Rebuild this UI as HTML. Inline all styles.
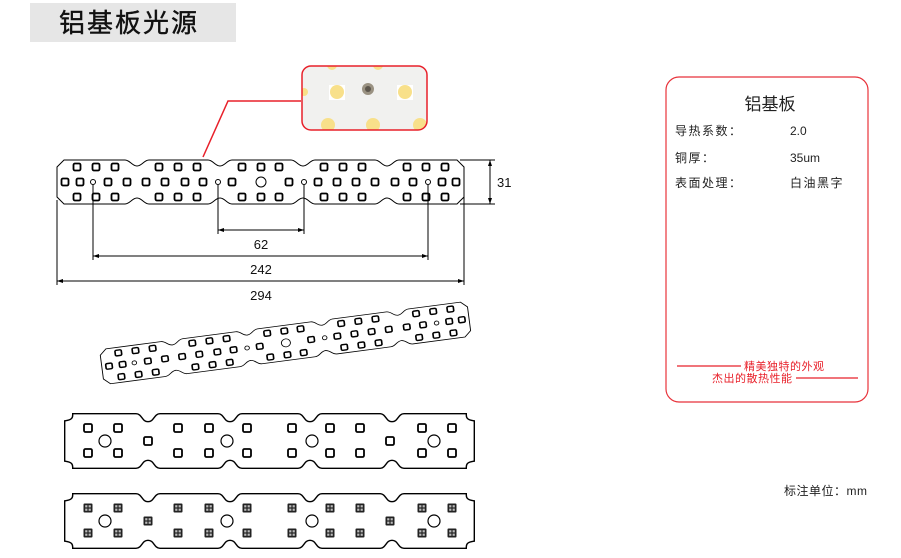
<!DOCTYPE html>
<html><head><meta charset="utf-8"><style>
html,body{margin:0;padding:0;background:#fff;}
body{width:901px;height:553px;overflow:hidden;position:relative;font-family:"Liberation Sans","Noto Sans CJK SC",sans-serif;}
svg text{font-family:"Liberation Sans","Noto Sans CJK SC",sans-serif;}
</style></head><body>
<svg width="901" height="553" viewBox="0 0 901 553" xmlns="http://www.w3.org/2000/svg">
<defs>
<rect id="p" x="-3.5" y="-3.5" width="7" height="7" rx="1.5" fill="none" stroke="#000" stroke-width="1.8"/>
<rect id="q" x="-4" y="-4" width="8" height="8" rx="1.5" fill="#fff" stroke="#000" stroke-width="1.8"/>
<g id="f"><rect x="-4.5" y="-4.5" width="9" height="9" rx="1" fill="#222"/><rect x="-2.8" y="-2.8" width="2.2" height="2.2" fill="#bbb"/><rect x="0.6" y="-2.8" width="2.2" height="2.2" fill="#bbb"/><rect x="-2.8" y="0.6" width="2.2" height="2.2" fill="#bbb"/><rect x="0.6" y="0.6" width="2.2" height="2.2" fill="#bbb"/></g>
<g id="b1">
<path d="M57,167 L64,160 L125,160 C130,160 132,166 137,166 C142,166 144,160 149,160 L208,160 C213,160 215,166 220,166 C225,166 227,160 232,160 L291,160 C296,160 298,166 303,166 C308,166 310,160 315,160 L375,160 C380,160 382,166 387,166 C392,166 394,160 399,160 L457,160 L464,167 L464,197 L457,204 L399,204 C394,204 392,198 387,198 C382,198 380,204 375,204 L315,204 C310,204 308,198 303,198 C298,198 296,204 291,204 L232,204 C227,204 225,198 220,198 C215,198 213,204 208,204 L149,204 C144,204 142,198 137,198 C132,198 130,204 125,204 L64,204 L57,197 Z" fill="#fff" stroke="#000" stroke-width="1"/>
<g>
<use href="#p" x="77" y="167"/><use href="#p" x="96" y="167"/><use href="#p" x="115" y="167"/><use href="#p" x="159" y="167"/><use href="#p" x="178" y="167"/><use href="#p" x="197" y="167"/><use href="#p" x="242" y="167"/><use href="#p" x="261" y="167"/><use href="#p" x="279" y="167"/><use href="#p" x="324" y="167"/><use href="#p" x="343" y="167"/><use href="#p" x="362" y="167"/><use href="#p" x="407" y="167"/><use href="#p" x="426" y="167"/><use href="#p" x="445" y="167"/>
<use href="#p" x="77" y="197"/><use href="#p" x="96" y="197"/><use href="#p" x="115" y="197"/><use href="#p" x="159" y="197"/><use href="#p" x="178" y="197"/><use href="#p" x="197" y="197"/><use href="#p" x="242" y="197"/><use href="#p" x="261" y="197"/><use href="#p" x="279" y="197"/><use href="#p" x="324" y="197"/><use href="#p" x="343" y="197"/><use href="#p" x="362" y="197"/><use href="#p" x="407" y="197"/><use href="#p" x="426" y="197"/><use href="#p" x="445" y="197"/>
<use href="#p" x="65" y="182"/><use href="#p" x="80" y="182"/><use href="#p" x="108" y="182"/><use href="#p" x="127" y="182"/><use href="#p" x="146" y="182"/><use href="#p" x="165" y="182"/><use href="#p" x="185" y="182"/><use href="#p" x="203" y="182"/><use href="#p" x="232" y="182"/><use href="#p" x="289" y="182"/><use href="#p" x="318" y="182"/><use href="#p" x="337" y="182"/><use href="#p" x="356" y="182"/><use href="#p" x="375" y="182"/><use href="#p" x="395" y="182"/><use href="#p" x="413" y="182"/><use href="#p" x="442" y="182"/><use href="#p" x="456" y="182"/>
</g>
<g fill="none" stroke="#000" stroke-width="1">
<circle cx="93" cy="182" r="2.5"/><circle cx="218" cy="182" r="2.5"/><circle cx="304" cy="182" r="2.5"/><circle cx="428" cy="182" r="2.5"/><circle cx="261" cy="182" r="5"/>
</g>
</g>
<path id="o3" d="M74,415 L136,415 C141,415 141,423 148,423 C155,423 155,415 160,415 L218,415 C223,415 223,423 230,423 C237,423 237,415 242,415 L298,415 C303,415 303,423 310,423 C317,423 317,415 322,415 L380,415 C385,415 385,423 392,423 C399,423 399,415 404,415 L465,415 C465,419 467,421 473,422 L473,460 C467,461 465,463 465,467 L404,467 C399,467 399,459 392,459 C385,459 385,467 380,467 L322,467 C317,467 317,459 310,459 C303,459 303,467 298,467 L242,467 C237,467 237,459 230,459 C223,459 223,467 218,467 L160,467 C155,467 155,459 148,459 C141,459 141,467 136,467 L74,467 C74,463 72,461 66,460 L66,422 C72,421 74,419 74,415 Z"/>
<clipPath id="cp"><rect x="302" y="66" width="125" height="64" rx="9"/></clipPath>
</defs>

<rect x="30" y="3" width="206" height="39" fill="#e6e6e6"/>
<text x="59" y="32" font-size="26" letter-spacing="2" fill="#111" stroke="#111" stroke-width="0.4">铝基板光源</text>

<use href="#b1"/>
<g stroke="#000" stroke-width="1" fill="none">
<line x1="93" y1="185" x2="93" y2="260"/><line x1="428" y1="185" x2="428" y2="260"/>
<line x1="218" y1="185" x2="218" y2="234"/><line x1="304" y1="185" x2="304" y2="234"/>
<line x1="57" y1="200" x2="57" y2="285"/><line x1="464" y1="192" x2="464" y2="285"/>
<line x1="218" y1="230" x2="304" y2="230"/>
<line x1="93" y1="256" x2="428" y2="256"/>
<line x1="57" y1="281" x2="464" y2="281"/>
<line x1="460" y1="160" x2="495" y2="160"/><line x1="460" y1="204" x2="495" y2="204"/>
<line x1="490" y1="160" x2="490" y2="204"/>
</g>
<g fill="#000">
<path d="M218,230 l6,-2 v4z"/><path d="M304,230 l-6,-2 v4z"/>
<path d="M93,256 l6,-2 v4z"/><path d="M428,256 l-6,-2 v4z"/>
<path d="M57,281 l6,-2 v4z"/><path d="M464,281 l-6,-2 v4z"/>
<path d="M490,160 l-2,6 h4z"/><path d="M490,204 l-2,-6 h4z"/>
</g>
<g font-size="13" fill="#111" text-anchor="middle">
<text x="261" y="249">62</text><text x="261" y="274">242</text><text x="261" y="300">294</text>
</g>
<text x="497" y="187" font-size="13" fill="#111">31</text>

<polyline points="203,157 228,101 301,101" fill="none" stroke="#e8202a" stroke-width="1.5"/>
<g clip-path="url(#cp)">
<rect x="302" y="66" width="125" height="64" fill="#f1f1ef"/>
<rect x="329" y="85" width="16" height="15" fill="#fff"/><rect x="397" y="85" width="16" height="15" fill="#fff"/>
<circle cx="337" cy="92" r="7" fill="#f8e08a"/><circle cx="405" cy="92" r="7" fill="#f8e08a"/>
<circle cx="304" cy="92" r="4" fill="#f8e08a"/>
<circle cx="328" cy="125" r="7" fill="#f8e08a"/><circle cx="373" cy="125" r="7" fill="#f8e08a"/><circle cx="420" cy="125" r="7" fill="#f8e08a"/>
<circle cx="332" cy="65" r="5" fill="#f8e08a"/><circle cx="378" cy="65" r="5" fill="#f8e08a"/>
<circle cx="368" cy="89" r="6" fill="#9a9282"/><circle cx="368" cy="89" r="3" fill="#5c564c"/>
</g>
<rect x="302" y="66" width="125" height="64" rx="9" fill="none" stroke="#e8202a" stroke-width="1.5"/>

<g transform="translate(285,343) rotate(-7.5) scale(0.91,0.8) translate(-260,-182)">
<use href="#b1"/>
</g>

<use href="#o3" fill="#fff" stroke="#000" stroke-width="4"/>
<use href="#o3" fill="#fff" stroke="#fff" stroke-width="1.2"/>
<g>
<use href="#q" x="88" y="428"/><use href="#q" x="118" y="428"/><use href="#q" x="178" y="428"/><use href="#q" x="209" y="428"/><use href="#q" x="247" y="428"/><use href="#q" x="292" y="428"/><use href="#q" x="330" y="428"/><use href="#q" x="360" y="428"/><use href="#q" x="422" y="428"/><use href="#q" x="452" y="428"/>
<use href="#q" x="88" y="453"/><use href="#q" x="118" y="453"/><use href="#q" x="178" y="453"/><use href="#q" x="209" y="453"/><use href="#q" x="247" y="453"/><use href="#q" x="292" y="453"/><use href="#q" x="330" y="453"/><use href="#q" x="360" y="453"/><use href="#q" x="422" y="453"/><use href="#q" x="452" y="453"/>
<use href="#q" x="148" y="441"/><use href="#q" x="390" y="441"/>
</g>
<g fill="none" stroke="#000" stroke-width="1.2">
<circle cx="105" cy="441" r="6"/><circle cx="227" cy="441" r="6"/><circle cx="312" cy="441" r="6"/><circle cx="434" cy="441" r="6"/>
</g>

<g transform="translate(0,80)">
<use href="#o3" fill="#fff" stroke="#000" stroke-width="4"/>
<use href="#o3" fill="#fff" stroke="#fff" stroke-width="1.2"/>
<use href="#f" x="88" y="428"/><use href="#f" x="118" y="428"/><use href="#f" x="178" y="428"/><use href="#f" x="209" y="428"/><use href="#f" x="247" y="428"/><use href="#f" x="292" y="428"/><use href="#f" x="330" y="428"/><use href="#f" x="360" y="428"/><use href="#f" x="422" y="428"/><use href="#f" x="452" y="428"/>
<use href="#f" x="88" y="453"/><use href="#f" x="118" y="453"/><use href="#f" x="178" y="453"/><use href="#f" x="209" y="453"/><use href="#f" x="247" y="453"/><use href="#f" x="292" y="453"/><use href="#f" x="330" y="453"/><use href="#f" x="360" y="453"/><use href="#f" x="422" y="453"/><use href="#f" x="452" y="453"/>
<use href="#f" x="148" y="441"/><use href="#f" x="390" y="441"/>
<g fill="none" stroke="#000" stroke-width="1.2">
<circle cx="105" cy="441" r="6"/><circle cx="227" cy="441" r="6"/><circle cx="312" cy="441" r="6"/><circle cx="434" cy="441" r="6"/>
</g>
</g>

<rect x="666" y="77" width="202" height="325" rx="13" fill="#fff" stroke="#e8323a" stroke-width="1.2"/>
<text x="770" y="110" font-size="17" fill="#222" text-anchor="middle">铝基板</text>
<g font-size="12" fill="#222">
<text x="675" y="135" letter-spacing="1.5">导热系数：</text><text x="790" y="135">2.0</text>
<text x="675" y="162" letter-spacing="1.5">铜厚：</text><text x="790" y="162">35um</text>
<text x="675" y="187" letter-spacing="1.5">表面处理：</text><text x="790" y="187" letter-spacing="1.5">白油黑字</text>
</g>
<g fill="#e8202a" font-size="11">
<line x1="677" y1="366" x2="741" y2="366" stroke="#e8202a" stroke-width="1.2"/>
<text x="744" y="370" letter-spacing="0.5">精美独特的外观</text>
<text x="712" y="382" letter-spacing="0.5">杰出的散热性能</text>
<line x1="796" y1="378" x2="858" y2="378" stroke="#e8202a" stroke-width="1.2"/>
</g>
<text x="784" y="495" font-size="12" fill="#222" letter-spacing="0.5">标注单位：mm</text>
</svg>
</body></html>
